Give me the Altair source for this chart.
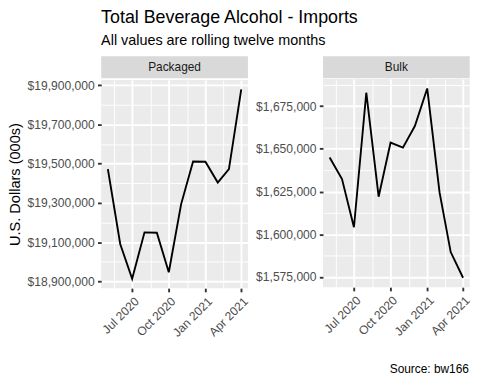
import json
import altair as alt
import pandas as pd

# ---- data ----
months = ["2020-05-01", "2020-06-01", "2020-07-01", "2020-08-01", "2020-09-01", "2020-10-01",
          "2020-11-01", "2020-12-01", "2021-01-01", "2021-02-01", "2021-03-01", "2021-04-01"]
packaged = [19472000, 19091000, 18914000, 19150000, 19148000, 18947000,
            19294000, 19511000, 19510000, 19404000, 19472000, 19878000]
bulk = [1644900, 1632300, 1604100, 1682800, 1622000, 1653600,
        1650700, 1663300, 1685300, 1624500, 1589600, 1574600]

x_major = ["2020-07-01", "2020-10-01", "2021-01-01", "2021-04-01"]
x_minor = ["2020-05-16 12:00", "2020-08-16", "2020-11-16", "2021-02-15"]
pk_major = [18900000, 19100000, 19300000, 19500000, 19700000, 19900000]
pk_minor = [19000000, 19200000, 19400000, 19600000, 19800000]
bk_major = [1575000, 1600000, 1625000, 1650000, 1675000]
bk_minor = [1587500, 1612500, 1637500, 1662500, 1687500]

FONT = "Liberation Sans"
PW, PH, SH = 148, 210, 22.3


def dt(ts):
    ts = pd.Timestamp(ts)
    return alt.DateTime(year=ts.year, month=ts.month, date=ts.day,
                        hours=ts.hour, minutes=ts.minute)


mt = pd.to_datetime(months)
span = mt.max() - mt.min()
x_domain = [dt(mt.min() - span * 0.05), dt(mt.max() + span * 0.05)]
x_test = "date(datum.value) == 1"
x_axis = alt.Axis(
    values=[dt(v) for v in x_major + x_minor],
    labelExpr=f"{x_test} ? timeFormat(datum.value, '%b %Y') : ''",
    gridWidth={"condition": {"test": x_test, "value": 1.9}, "value": 0.95},
    tickOpacity={"condition": {"test": x_test, "value": 1}, "value": 0},
    labelAngle=-45, labelAlign="right", labelBaseline="top", labelPadding=3,
    labelOverlap=False, labelBound=False, labelFlush=False, title=None,
)


def strip(label):
    return alt.Chart(pd.DataFrame({"label": [label]})).mark_text(
        font=FONT, fontSize=12, color="#1A1A1A", baseline="middle"
    ).encode(text="label:N").properties(
        width=PW, height=SH,
        view=alt.ViewBackground(fill="#D9D9D9", strokeWidth=0),
    )


def plot(values, ymaj, ymin, ytitle):
    df = pd.DataFrame({"month": [m + "T00:00:00" for m in months], "value": values})
    lo, hi = min(values), max(values)
    pad = 0.05 * (hi - lo)
    y_test = f"indexof({json.dumps(ymaj)}, datum.value) >= 0"
    y_axis = alt.Axis(
        values=ymaj + ymin,
        labelExpr=f"{y_test} ? format(datum.value, '$,.0f') : ''",
        gridWidth={"condition": {"test": y_test, "value": 1.9}, "value": 0.95},
        tickOpacity={"condition": {"test": y_test, "value": 1}, "value": 0},
        labelPadding=3.3, titlePadding=4.6,
    )
    return alt.Chart(df).mark_line(color="black", strokeWidth=1.9).encode(
        x=alt.X("month:T", scale=alt.Scale(domain=x_domain, nice=False), axis=x_axis),
        y=alt.Y("value:Q", scale=alt.Scale(domain=[lo - pad, hi + pad], nice=False, zero=False),
                axis=y_axis, title=ytitle),
    ).properties(
        width=PW, height=PH,
        view=alt.ViewBackground(fill="#EBEBEB", strokeWidth=0),
    )


left = alt.vconcat(strip("Packaged"), plot(packaged, pk_major, pk_minor, "U.S. Dollars (000s)"), spacing=0)
right = alt.vconcat(strip("Bulk"), plot(bulk, bk_major, bk_minor, None), spacing=0).properties(
    title=alt.TitleParams("Source: bw166", orient="bottom", anchor="end", font=FONT,
                          fontSize=12, fontWeight="normal", color="black",
                          offset=26.6, dx=-2.7)
)

chart = alt.hconcat(left, right, spacing=5.7).properties(
    title=alt.TitleParams(
        "Total Beverage Alcohol - Imports",
        subtitle="All values are rolling twelve months",
        anchor="start", font=FONT, fontSize=18, fontWeight="normal", color="black",
        subtitleFont=FONT, subtitleFontSize=14.5, subtitleColor="black",
        subtitlePadding=6.7, offset=8.8, dx=94.3,
    ),
    padding={"left": -1, "top": 0, "right": 0, "bottom": 0},
).configure_axis(
    domain=False, labelFont=FONT, labelFontSize=12.2, labelColor="#4D4D4D",
    tickColor="#333333", tickSize=3.7, tickWidth=1.9, gridColor="white",
    titleFont=FONT, titleFontSize=14.7, titleFontWeight="normal", titleColor="black",
).configure_view(strokeWidth=0)

chart.save("out.html", embed_options={"renderer": "svg", "actions": False})
